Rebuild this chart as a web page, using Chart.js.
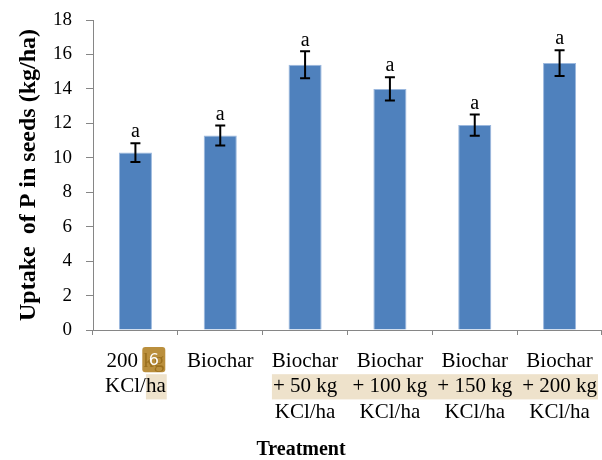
<!DOCTYPE html>
<html>
<head>
<meta charset="utf-8">
<script src="https://cdn.jsdelivr.net/npm/chart.js@4/dist/chart.umd.min.js"></script>
<style>
  html, body { margin: 0; padding: 0; background: #fff; }
  #wrap { width: 602px; height: 460px; }
</style>
</head>
<body>
<div id="wrap"><canvas id="chart" width="602" height="460"></canvas></div>
<script>
const treatments = [
    ['200 kg', 'KCl/ha'],
    ['Biochar'],
    ['Biochar', '+ 50 kg', 'KCl/ha'],
    ['Biochar', '+ 100 kg', 'KCl/ha'],
    ['Biochar', '+ 150 kg', 'KCl/ha'],
    ['Biochar', '+ 200 kg', 'KCl/ha']
];
const uptake = [10.3, 11.3, 15.4, 14.0, 11.9, 15.5];
const errors = [0.55, 0.58, 0.78, 0.68, 0.62, 0.75];
const letters = ['a', 'a', 'a', 'a', 'a', 'a'];
const yTicks = [0, 2, 4, 6, 8, 10, 12, 14, 16, 18];

const serif = '"Liberation Serif", "Times New Roman", serif';
const xFontSize = 21;
const xLineHeight = 1.2;
const xTickLen = 5;
const xTickPad = 14;

// highlight behind some label text (as in the source scan)
const highlightPlugin = {
    id: 'highlight',
    beforeDraw(chart) {
        const ctx = chart.ctx;
        const x = chart.scales.x;
        const lh = xFontSize * xLineHeight;
        const top = x.top + xTickLen + xTickPad;
        ctx.save();
        ctx.font = xFontSize + 'px ' + serif;
        ctx.fillStyle = '#eee2cb';
        // line 2 of labels 3..6
        const l = x.getPixelForValue(2) - ctx.measureText(treatments[2][1]).width / 2;
        const r = x.getPixelForValue(5) + ctx.measureText(treatments[5][1]).width / 2;
        ctx.fillRect(l - 1, top + lh, r - l + 2, lh);
        // "ha" of first label
        const c0 = x.getPixelForValue(0);
        const w0 = ctx.measureText(treatments[0][1]).width;
        const wha = ctx.measureText('ha').width;
        ctx.fillRect(c0 + w0 / 2 - wha, top + lh, wha + 1, lh);
        ctx.restore();
    },
    afterDraw(chart) {
        const ctx = chart.ctx;
        const x = chart.scales.x;
        const lh = xFontSize * xLineHeight;
        const top = x.top + xTickLen + xTickPad;
        ctx.save();
        ctx.font = xFontSize + 'px ' + serif;
        const c0 = x.getPixelForValue(0);
        const w0 = ctx.measureText(treatments[0][0]).width;
        const wkg = ctx.measureText('kg').width;
        const bx = c0 + w0 / 2 - wkg - 1;
        const by = top - 2;
        const bw = wkg + 2;
        const bh = lh;
        ctx.fillStyle = 'rgba(176, 128, 34, 0.88)';
        ctx.beginPath();
        ctx.roundRect(bx, by, bw, bh, 3);
        ctx.fill();
        ctx.fillStyle = '#fff';
        ctx.font = '16px "DejaVu Sans", sans-serif';
        ctx.textAlign = 'center';
        ctx.textBaseline = 'middle';
        ctx.fillText('6', bx + bw / 2, by + bh / 2 + 1);
        ctx.restore();
    }
};

const errorBarPlugin = {
    id: 'errorBars',
    afterDatasetsDraw(chart) {
        const ctx = chart.ctx;
        const y = chart.scales.y;
        const meta = chart.getDatasetMeta(0);
        ctx.save();
        ctx.strokeStyle = '#000';
        ctx.lineWidth = 2;
        meta.data.forEach((bar, i) => {
            const yt = y.getPixelForValue(uptake[i] + errors[i]);
            const yb = y.getPixelForValue(uptake[i] - errors[i]);
            ctx.beginPath();
            ctx.moveTo(bar.x, yt);
            ctx.lineTo(bar.x, yb);
            ctx.moveTo(bar.x - 5, yt);
            ctx.lineTo(bar.x + 5, yt);
            ctx.moveTo(bar.x - 5, yb);
            ctx.lineTo(bar.x + 5, yb);
            ctx.stroke();
            ctx.fillStyle = '#000';
            ctx.font = '20px ' + serif;
            ctx.textAlign = 'center';
            ctx.textBaseline = 'bottom';
            ctx.fillText(letters[i], bar.x, yt - 1);
        });
        ctx.restore();
    }
};

const chart = new Chart(document.getElementById('chart').getContext('2d'), {
    type: 'bar',
    data: {
        labels: treatments,
        datasets: [{
            data: uptake,
            backgroundColor: '#4f81bd',
            borderColor: '#9bb8de',
            borderWidth: 1,
            barPercentage: 0.39,
            categoryPercentage: 1
        }]
    },
    options: {
        responsive: false,
        animation: false,
        layout: { padding: { top: 20, left: 0, right: 0, bottom: 0 } },
        plugins: {
            legend: { display: false },
            tooltip: { enabled: false },
            title: {
                display: true,
                position: 'bottom',
                text: 'Treatment',
                color: '#000',
                font: { family: serif, size: 20, weight: 'bold', lineHeight: 1 },
                padding: { top: 17, bottom: 0 }
            }
        },
        scales: {
            x: {
                grid: {
                    display: true,
                    drawOnChartArea: false,
                    drawTicks: true,
                    tickLength: xTickLen,
                    color: '#868686',
                    offset: true
                },
                border: { color: '#868686', width: 1 },
                ticks: {
                    color: '#000',
                    padding: xTickPad,
                    maxRotation: 0,
                    autoSkip: false,
                    font: { family: serif, size: xFontSize, lineHeight: xLineHeight }
                },
                afterFit(s) { s.paddingLeft = 0; s.paddingRight = 0; s.height = 93; }
            },
            y: {
                min: 0,
                max: 18,
                afterBuildTicks(s) { s.ticks = yTicks.map(v => ({ value: v })); },
                grid: {
                    display: true,
                    drawOnChartArea: false,
                    drawTicks: true,
                    tickLength: 7,
                    color: '#868686'
                },
                border: { color: '#868686', width: 1 },
                ticks: {
                    color: '#000',
                    padding: 14,
                    font: { family: serif, size: 19 }
                },
                title: {
                    display: true,
                    text: 'Uptake  of P in seeds (kg/ha)',
                    color: '#000',
                    font: { family: serif, size: 24, weight: 'bold', lineHeight: 1.2 },
                    padding: { top: 14, bottom: 0 }
                },
                afterFit(s) { s.width = 93; s.paddingTop = 0; s.paddingBottom = 0; }
            }
        }
    },
    plugins: [highlightPlugin, errorBarPlugin]
});
</script>
</body>
</html>
